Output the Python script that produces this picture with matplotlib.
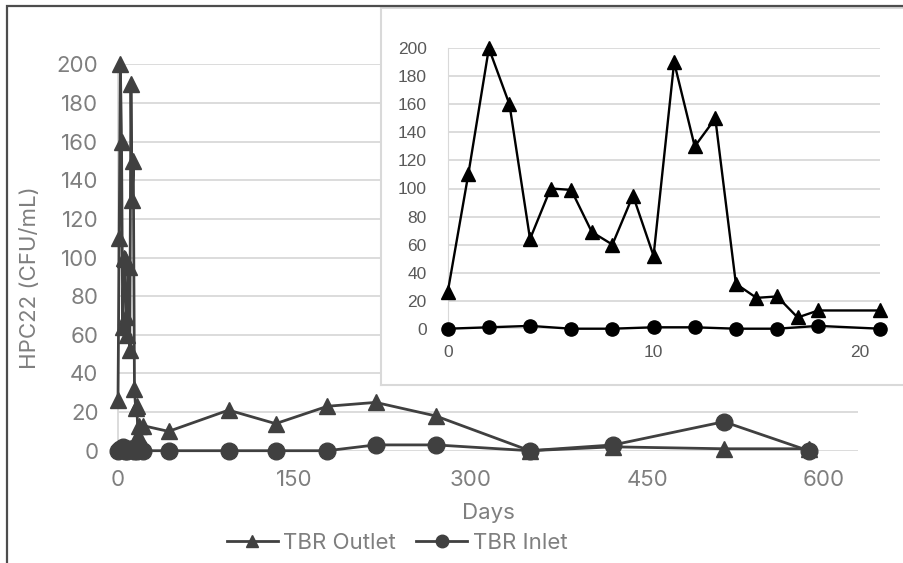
import matplotlib
matplotlib.use("Agg")
import matplotlib.pyplot as plt
from matplotlib.patches import Rectangle

# sampling days and counts
days = [0, 1, 2, 3, 4, 5, 6, 7, 8, 9, 10, 11, 12, 13, 14, 15, 16, 17, 18, 21,
        43, 94, 134, 178, 219, 270, 350, 421, 515, 587]
outlet = [26, 110, 200, 160, 64, 100, 99, 69, 60, 95, 52, 190, 130, 150, 32, 22, 23, 8, 13, 13,
          10, 21, 14, 23, 25, 18, 0, 2, 1, 1]

inlet_days = [0, 2, 4, 6, 8, 10, 12, 14, 16, 18, 21,
              43, 94, 134, 178, 219, 270, 350, 421, 515, 587]
inlet = [0, 1, 2, 0, 0, 1, 1, 0, 0, 2, 0,
         0, 0, 0, 0, 3, 3, 0, 3, 15, 0]

main_xticks = [0, 150, 300, 450, 600]
inset_xticks = [0, 10, 20]
yticks = list(range(0, 201, 20))
first_weeks = 21

W, H = 904, 563
fig = plt.figure(figsize=(W / 100, H / 100), dpi=100)
font = "Inter"
fsize = 16
grey_txt = "#7f7f7f"
grid_c = "#d9d9d9"
line_c = "#404040"

# main chart over the full record
ax = fig.add_axes([118 / W, 1 - 450.7 / H, 740 / W, 386.4 / H])
ax.plot(days, outlet, color=line_c, lw=2, marker="^", ms=12, clip_on=False, zorder=3,
        label="TBR Outlet")
ax.plot(inlet_days, inlet, color=line_c, lw=2, marker="o", ms=12, clip_on=False, zorder=3,
        label="TBR Inlet")
ax.set_xlim(0, 629)
ax.set_ylim(0, 200)
ax.set_xticks(main_xticks)
ax.set_yticks(yticks)
ax.yaxis.grid(True, color=grid_c, lw=1.3)
ax.set_axisbelow(True)
for s in ["top", "right", "bottom"]:
    ax.spines[s].set_visible(False)
ax.spines["left"].set_color(grid_c)
ax.spines["left"].set_linewidth(1.3)
ax.tick_params(length=0, pad=14, labelsize=fsize, labelcolor=grey_txt)
for lab in ax.get_xticklabels() + ax.get_yticklabels():
    lab.set_fontfamily(font)
ax.text(0.5, -0.161, "Days", transform=ax.transAxes, ha="center", va="center",
        fontsize=fsize, color=grey_txt, family=font)
ax.text(-0.119, 0.447, "HPC22 (CFU/mL)", transform=ax.transAxes, ha="center", va="center",
        rotation=90, fontsize=fsize, color=grey_txt, family=font)

fig.legend(loc="center", bbox_to_anchor=(397 / W, 1 - 543 / H), ncol=2, frameon=False,
           prop={"family": font, "size": fsize}, labelcolor=grey_txt, handlelength=2.3,
           handletextpad=0.25, columnspacing=0.9, markerscale=0.75)

# white panel holding the first three weeks
box = fig.add_axes([381 / W, 1 - 385 / H, 0.6, 377 / H], zorder=2)
box.set_xticks([])
box.set_yticks([])
for s in box.spines.values():
    s.set_color(grid_c)
    s.set_linewidth(1.5)

n_out = days.index(first_weeks) + 1
n_in = inlet_days.index(first_weeks) + 1
ins = fig.add_axes([447.7 / W, 1 - 328.7 / H, 432.3 / W, 280.4 / H], zorder=3)
ins.patch.set_alpha(0)
ins.plot(days[:n_out], outlet[:n_out], color="black", lw=1.7, marker="^", ms=9.5,
         clip_on=False, zorder=3)
ins.plot(inlet_days[:n_in], inlet[:n_in], color="black", lw=1.7, marker="o", ms=9.5,
         clip_on=False, zorder=3)
ins.set_xlim(0, 21)
ins.set_ylim(0, 200)
ins.set_xticks(inset_xticks)
ins.set_yticks(yticks)
ins.yaxis.grid(True, color=grid_c, lw=1.3)
ins.set_axisbelow(True)
for s in ["top", "right", "bottom"]:
    ins.spines[s].set_visible(False)
ins.spines["left"].set_color(grid_c)
ins.tick_params(length=0, labelsize=12.5, labelcolor="#595959")
ins.tick_params(axis="y", pad=15)
ins.tick_params(axis="x", pad=12)
for lab in ins.get_xticklabels() + ins.get_yticklabels():
    lab.set_fontfamily("Liberation Sans")

# outer frame
fig.patches.append(Rectangle((7 / W, -0.05), 1.1, 1 - 5.5 / H + 0.05, transform=fig.transFigure,
                             fill=False, edgecolor="#4d4d4d", lw=1.6, zorder=10))

fig.savefig("out.png", dpi=100)
